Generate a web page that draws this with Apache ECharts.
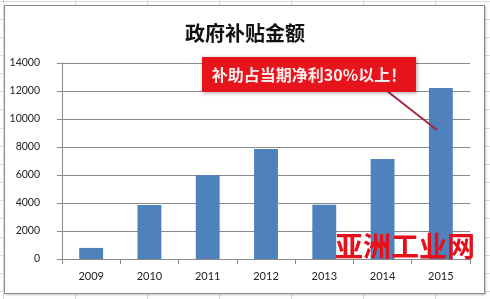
<!DOCTYPE html>
<html>
<head>
<meta charset="utf-8">
<script src="https://cdn.jsdelivr.net/npm/echarts@6/dist/echarts.min.js"></script>
<style>
html,body{margin:0;padding:0;width:490px;height:299px;overflow:hidden;}
body{
  background-color:#fff;
  background-image:
    repeating-linear-gradient(to right, transparent 0px, transparent 2px, #dadada 2px, #dadada 3px, transparent 3px, transparent 72px),
    repeating-linear-gradient(to bottom, transparent 0px, transparent 0.6px, #dadada 0.6px, #dadada 1.6px, transparent 1.6px, transparent 18.15px);
  background-position: 1px 0, 0 0;
}
#frame{position:absolute;left:4px;top:5px;width:481px;height:289px;box-sizing:border-box;background:#fff;border:1px solid #8c8c8c;box-shadow:1px 1px 2px rgba(0,0,0,0.25);}
#main{position:absolute;left:0;top:0;width:490px;height:299px;}
</style>
</head>
<body>
<div id="frame"></div>
<div id="main"></div>
<script>
const title = '政府补贴金额';
const years = ['2009','2010','2011','2012','2013','2014','2015'];
const subsidy = [790, 3860, 6000, 7860, 3870, 7150, 12220];
const yTicks = {min: 0, max: 14000, interval: 2000};
const calloutText = '补助占当期净利30%以上！';
const watermark = '亚洲工业网';

const chart = echarts.init(document.getElementById('main'), null, {renderer: 'canvas'});
const gridColor = '#8a8a8a';
chart.setOption({
  backgroundColor: 'transparent',
  animation: false,
  title: {
    text: title, left: 'center', top: 18,
    textStyle: {fontFamily: 'Noto Sans CJK SC', fontSize: 20, fontWeight: 'bold', color: '#111'}
  },
  grid: {left: 62, right: 20, top: 63, bottom: 40},
  xAxis: {
    type: 'category', data: years, boundaryGap: true,
    axisLine: {lineStyle: {color: gridColor, width: 1}},
    axisTick: {show: true, length: 5, inside: false, alignWithLabel: false, lineStyle: {color: gridColor}},
    axisLabel: {color: '#222', fontFamily: 'Lato', fontSize: 11, margin: 12}
  },
  yAxis: {
    type: 'value', min: yTicks.min, max: yTicks.max, interval: yTicks.interval,
    axisLine: {show: true, lineStyle: {color: gridColor, width: 1}},
    axisTick: {show: true, length: 5, lineStyle: {color: gridColor}},
    splitLine: {show: true, lineStyle: {color: gridColor, width: 1}},
    axisLabel: {color: '#222', fontFamily: 'Lato', fontSize: 10.5, margin: 22, formatter: v => String(v)}
  },
  series: [{
    type: 'bar', data: subsidy, barWidth: '41%',
    itemStyle: {color: '#4f81bd'}
  }],
  graphic: [
    {type: 'line', z: 100, shape: {x1: 387, y1: 91, x2: 437, y2: 130}, style: {stroke: '#a3293f', lineWidth: 2}},
    {type: 'rect', z: 101, shape: {x: 202, y: 57, width: 214, height: 35},
      style: {fill: '#e8141c', shadowBlur: 4, shadowColor: 'rgba(0,0,0,0.35)', shadowOffsetX: 1, shadowOffsetY: 1}},
    {type: 'text', z: 102, x: 309, y: 75,
      style: {text: calloutText, fill: '#fbecec', font: 'bold 16px "Noto Sans CJK SC"', align: 'center', verticalAlign: 'middle'}},
    {type: 'text', z: 103, x: 405, y: 246,
      style: {text: watermark, fill: '#e60f1a', font: 'bold 28px "Noto Sans CJK SC"', align: 'center', verticalAlign: 'middle'}}
  ]
});
</script>
</body>
</html>
